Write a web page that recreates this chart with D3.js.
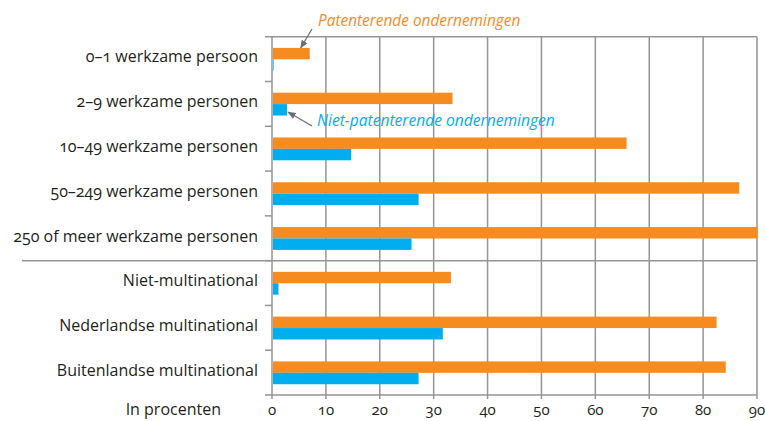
<!DOCTYPE html>
<html><head><meta charset="utf-8">
<script src="https://cdn.jsdelivr.net/npm/d3@7"></script>
<style>
html,body{margin:0;padding:0;background:#fff;}
text{font-family:"Open Sans",Lato,sans-serif;font-feature-settings:"onum" 1;font-variant-numeric:oldstyle-nums;}
</style></head>
<body>
<svg id="c" width="765" height="421"></svg>
<script>
const categories = ["0–1 werkzame persoon","2–9 werkzame personen","10–49 werkzame personen","50–249 werkzame personen","250 of meer werkzame personen","Niet-multinational","Nederlandse multinational","Buitenlandse multinational"];
const seriesNames = ["Patenterende ondernemingen","Niet-patenterende ondernemingen"];
const patenterend = [7, 33.5, 65.8, 86.7, 90.1, 33.2, 82.5, 84.2];
const nietPatenterend = [0.3, 2.8, 14.7, 27.2, 25.9, 1.2, 31.7, 27.2];
const xTicks = [0,10,20,30,40,50,60,70,80,90];
const xTitle = "In procenten";
const colors = ["#F68B1F", "#00AEEF"];

const svg = d3.select("#c");
const pL = 272, pR = 757, pT = 36.7, pB = 395;
const x = d3.scaleLinear().domain([0,90]).range([pL,pR]);
const y = d3.scaleBand().domain(categories).range([pT,pB]);
const bw = y.bandwidth();
const sub = d3.scaleBand().domain(seriesNames).range([bw*0.25, bw*0.76]);
const gridCol = "#959595";

// vertical grid lines
svg.append("g").selectAll("line").data(xTicks).join("line")
  .attr("x1", d=>x(d)).attr("x2", d=>x(d))
  .attr("y1", pT).attr("y2", pB+4)
  .attr("stroke", gridCol).attr("stroke-width", 1.5);

// top line, bottom axis line
svg.append("line").attr("x1", pL-7).attr("x2", pR).attr("y1", pT).attr("y2", pT)
  .attr("stroke", gridCol).attr("stroke-width", 1.5);
svg.append("line").attr("x1", pL-7).attr("x2", pR).attr("y1", pB).attr("y2", pB)
  .attr("stroke", gridCol).attr("stroke-width", 1.5);
// separator between groups
svg.append("line").attr("x1", 22).attr("x2", pR).attr("y1", y(categories[5])).attr("y2", y(categories[5]))
  .attr("stroke", gridCol).attr("stroke-width", 1.5);
// left ticks at band boundaries
svg.append("g").selectAll("line").data(categories.slice(1)).join("line")
  .attr("x1", pL-7).attr("x2", pL).attr("y1", d=>y(d)).attr("y2", d=>y(d))
  .attr("stroke", gridCol).attr("stroke-width", 1.5);

// bars
const rows = categories.map((c,i)=>({c, vals:[patenterend[i], nietPatenterend[i]]}));
const g = svg.append("g");
rows.forEach(r=>{
  r.vals.forEach((v,j)=>{
    g.append("rect")
      .attr("x", x(0)+1).attr("y", y(r.c)+sub(seriesNames[j]))
      .attr("width", Math.max(0, x(v)-x(0)-1)).attr("height", sub.bandwidth())
      .attr("fill", colors[j]);
  });
});

// category labels
svg.append("g").selectAll("text").data(categories).join("text")
  .attr("x", 258).attr("y", d=>y(d)+bw*0.5-1)
  .attr("text-anchor","end").attr("dominant-baseline","middle")
  .attr("font-size", 16).attr("fill","#231f20").text(d=>d);

// x tick labels
svg.append("g").selectAll("text").data(xTicks).join("text")
  .attr("x", d=>x(d)).attr("y", 411).attr("text-anchor","middle")
  .attr("dominant-baseline","middle").attr("font-size", 15).attr("fill","#231f20").text(d=>d);
svg.append("text").attr("x", 221).attr("y", 411).attr("text-anchor","end")
  .attr("dominant-baseline","middle").attr("font-size", 16).attr("fill","#231f20").text(xTitle);

// annotations
const defs = svg.append("defs");
defs.append("marker").attr("id","ah").attr("viewBox","0 0 10 10").attr("refX",9).attr("refY",5)
  .attr("markerWidth",7).attr("markerHeight",7).attr("orient","auto")
  .append("path").attr("d","M0,1 L10,5 L0,9 z").attr("fill","#6d6e71");
const yA = y(categories[0]) + sub(seriesNames[0]);
svg.append("line").attr("x1", 312).attr("y1", 29).attr("x2", x(patenterend[0]) - 9).attr("y2", yA)
  .attr("stroke","#6d6e71").attr("stroke-width",1.2).attr("marker-end","url(#ah)");
svg.append("text").attr("x", 318).attr("y", 22).attr("dominant-baseline","middle")
  .attr("font-size", 15.4).attr("font-style","italic").attr("fill", colors[0]).text(seriesNames[0]);
const yB = y(categories[1]) + sub(seriesNames[1]) + sub.bandwidth()*0.7;
svg.append("line").attr("x1", 312).attr("y1", 126).attr("x2", x(nietPatenterend[1]) + 1).attr("y2", yB)
  .attr("stroke","#6d6e71").attr("stroke-width",1.2).attr("marker-end","url(#ah)");
svg.append("text").attr("x", 317).attr("y", 122).attr("dominant-baseline","middle")
  .attr("font-size", 15.6).attr("font-style","italic").attr("fill", colors[1]).text(seriesNames[1]);
</script>
</body></html>
